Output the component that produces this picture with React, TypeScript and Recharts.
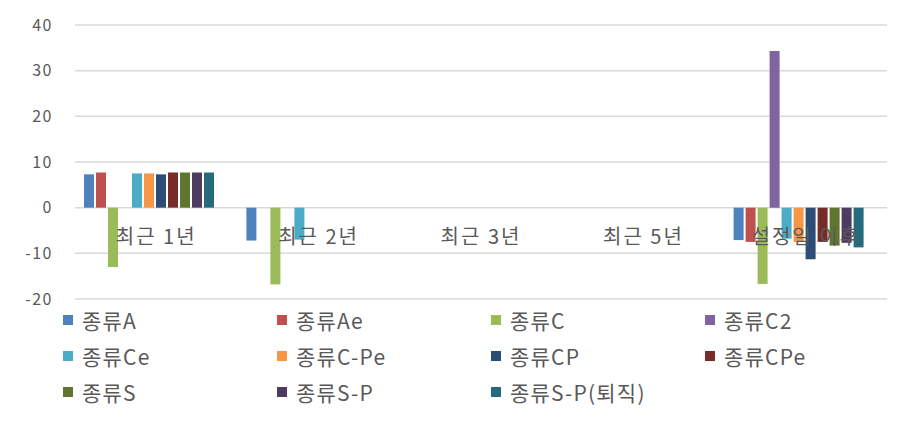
import React from 'react';
import { BarChart, Bar, XAxis, YAxis, CartesianGrid, Legend } from 'recharts';

const categories = ['최근 1년', '최근 2년', '최근 3년', '최근 5년', '설정일 이후'];

const seriesNames = [
  '종류A', '종류Ae', '종류C', '종류C2', '종류Ce', '종류C-Pe',
  '종류CP', '종류CPe', '종류S', '종류S-P', '종류S-P(퇴직)',
];

const seriesColors = [
  '#4F81BD', '#C0504D', '#9BBB59', '#8064A2', '#4BACC6', '#F79646',
  '#2C4D75', '#772C2A', '#5F7530', '#4D3B62', '#276A7C',
];

const valuesA = [7.3, -7.2, null, null, -7.1];
const valuesAe = [7.7, null, null, null, -7.5];
const valuesC = [-13.0, -16.8, null, null, -16.7];
const valuesC2 = [null, null, null, null, 34.3];
const valuesCe = [7.5, -7.0, null, null, -6.8];
const valuesCPe1 = [7.5, null, null, null, -7.5];
const valuesCP = [7.3, null, null, null, -11.3];
const valuesCPe = [7.7, null, null, null, -7.5];
const valuesS = [7.7, null, null, null, -8.3];
const valuesSP = [7.7, null, null, null, -7.7];
const valuesSPR = [7.7, null, null, null, -8.7];
// empty 12th slot present in the original chart layout
const valuesBlank = [null, null, null, null, null];

const seriesValues = [
  valuesA, valuesAe, valuesC, valuesC2, valuesCe, valuesCPe1,
  valuesCP, valuesCPe, valuesS, valuesSP, valuesSPR,
];

const yTicks = [-20, -10, 0, 10, 20, 30, 40];

const data = categories.map((cat, i) => {
  const row: Record<string, any> = { name: cat };
  seriesNames.forEach((s, j) => {
    row[s] = seriesValues[j][i];
  });
  row['__blank'] = valuesBlank[i];
  return row;
});

const FONT = '"Noto Sans CJK KR", "Noto Sans", sans-serif';
const TEXT = '#595959';

const W = 905;
const H = 421;
// chart frame origin (border at 6,2; drawing area starts at 8,4)
const FX = 6;
const FY = 2;
const BW = 2;
const OX = FX + BW;
const OY = FY + BW;
const CW = W - OX;
const CH = H - OY;

const PLOT_TOP = 25 - OY;
const PLOT_BOTTOM = 299 - OY;
const PLOT_RIGHT = 887 - OX;
const PLOT_LEFT = 75 - OX;
const ZERO_Y = PLOT_TOP + ((40 - 0) / (40 - -20)) * (PLOT_BOTTOM - PLOT_TOP);

const CategoryTick = (props: any) => {
  const { x, payload } = props;
  return (
    <text
      x={x}
      y={ZERO_Y + 28}
      textAnchor="middle"
      dominantBaseline="central"
      fill={TEXT}
      fontSize={20}
      fontFamily={FONT}
      letterSpacing={2}
    >
      {payload.value}
    </text>
  );
};

const LegendContent = () => (
  <div
    style={{
      display: 'grid',
      gridTemplateColumns: 'repeat(4, 214px)',
      gridAutoRows: '36px',
      fontFamily: FONT,
      fontSize: 21,
      letterSpacing: '1.2px',
      color: TEXT,
    }}
  >
    {seriesNames.map((s, i) => (
      <div key={s} style={{ display: 'flex', alignItems: 'center', whiteSpace: 'nowrap' }}>
        <span
          style={{
            display: 'inline-block',
            width: 10,
            height: 10,
            background: seriesColors[i],
            marginRight: 9,
          }}
        />
        <span>{s}</span>
      </div>
    ))}
  </div>
);

export default function App() {
  return (
    <div style={{ position: 'relative', width: W, height: H, margin: -8, background: '#fff', overflow: 'hidden' }}>
      <BarChart
        width={CW}
        height={CH}
        data={data}
        margin={{ top: PLOT_TOP, right: CW - PLOT_RIGHT, left: 0, bottom: CH - PLOT_BOTTOM - 1 }}
        barCategoryGap={9}
        barGap={2}
        style={{
          position: 'absolute',
          left: FX,
          top: FY,
          borderLeft: `${BW}px solid #C8C8C8`,
          borderTop: `${BW}px solid #C8C8C8`,
        }}
      >
        <CartesianGrid vertical={false} stroke="#D9D9D9" strokeWidth={1.5} />
        <YAxis
          width={PLOT_LEFT}
          domain={[-20, 40]}
          ticks={yTicks}
          allowDataOverflow
          axisLine={false}
          tickLine={false}
          tickSize={0}
          tickMargin={22}
          tick={{ fill: TEXT, fontSize: 16, fontFamily: FONT, letterSpacing: 1.5 }}
        />
        {seriesNames.map((s, i) => (
          <Bar key={s} dataKey={s} fill={seriesColors[i]} isAnimationActive={false} />
        ))}
        <Bar dataKey="__blank" fill="transparent" legendType="none" isAnimationActive={false} />
        <XAxis
          dataKey="name"
          height={1}
          axisLine={false}
          tickLine={false}
          interval={0}
          tick={CategoryTick}
          {...({ zIndex: 2500 } as any)}
        />
        <Legend
          layout="horizontal"
          verticalAlign="middle"
          align="center"
          content={<LegendContent />}
          wrapperStyle={{ position: 'absolute', left: 63 - OX, top: 302 - OY, width: 840, height: 110 }}
        />
      </BarChart>
    </div>
  );
}
